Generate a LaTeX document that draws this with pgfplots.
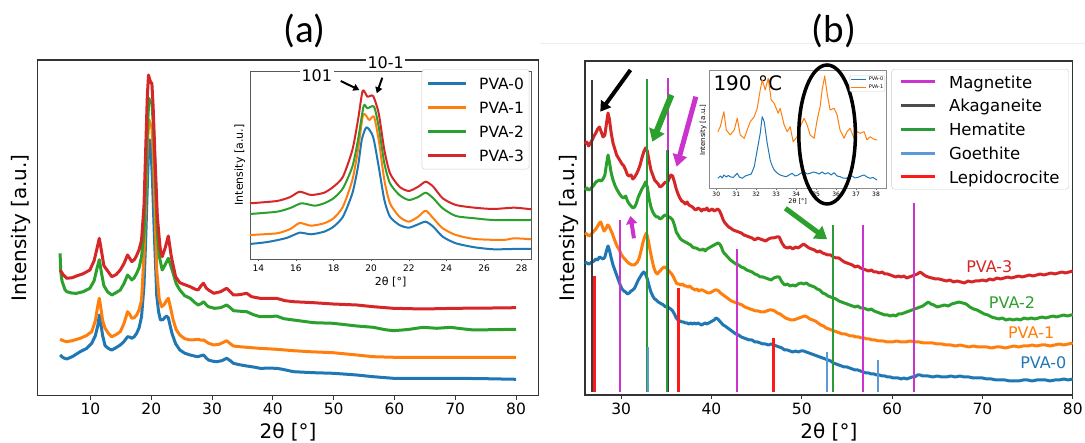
\documentclass[border=0pt]{standalone}
\usepackage{pgfplots}
\pgfplotsset{compat=1.18}
\usepackage{fontspec}
\setmainfont{DejaVu Sans}
\newfontfamily\calibri{Carlito}
\usetikzlibrary{arrows.meta}
\definecolor{c0}{HTML}{1F77B4}
\definecolor{c1}{HTML}{FF7F0E}
\definecolor{c2}{HTML}{2CA02C}
\definecolor{c3}{HTML}{D62728}
\definecolor{magn}{HTML}{CC33CC}
\definecolor{akag}{HTML}{3A3A3A}
\definecolor{hema}{HTML}{2A9A3A}
\definecolor{goet}{HTML}{5B9BD5}
\definecolor{lepi}{HTML}{FF1A1A}
\newcommand\lstrA{\rule[-2.85pt]{0pt}{17pt}}
\newcommand\lstrB{\rule[-2.5pt]{0pt}{17pt}}
\begin{document}
\begin{tikzpicture}[x=1pt,y=1pt]
\useasboundingbox (0,0) rectangle (1085,443);
\draw[black!7, line width=0.8pt] (540,400) -- (1085,400);
\node[font=\calibri\fontsize{39}{40}\selectfont] at (304.5,411.7) {(a)};
\node[font=\calibri\fontsize{39}{40}\selectfont] at (834,411.7) {(b)};

% ---------------- panel (a) main
\begin{axis}[
 at={(37.3pt,47.3pt)}, anchor=south west, scale only axis,
 width=501.5pt, height=335.7pt,
 xmin=1.25, xmax=83.75, ymin=0, ymax=335.7,
 xtick={10,20,...,80}, ytick=\empty, xtick pos=lower,
 axis line style={black!80, line width=1.1pt},
 tick align=outside, major tick length=4pt, xtick style={black!80, line width=0.9pt},
 /pgf/number format/assume math mode=true,
 xticklabel style={font=\fontsize{15.5}{16}\selectfont},
 xlabel={2θ [°]}, ylabel={Intensity [a.u.]},
 xlabel style={font=\fontsize{20}{22}\selectfont, at={(axis description cs:0.5,-0.108)}, anchor=center},
 ylabel style={font=\fontsize{20}{22}\selectfont, at={(axis description cs:-0.033,0.5)}, anchor=center},
 every axis plot/.append style={line width=3pt, line join=round},
]
\addplot[c0] coordinates {(5,40.7)(5.5,38)(6.1,36.7)(7,39)(8.3,44)(9.3,47)(10.2,52.4)(10.8,60)(11.2,70)(11.45,80.7)(11.7,72)(12,60)(12.4,50)(13,47)(13.5,45.7)(14.2,48)(14.9,50.7)(15.5,54)(16.1,59)(16.5,58.5)(16.8,57.4)(17.2,59)(17.6,62.4)(18,68)(18.4,79)(18.8,110)(19.1,160)(19.35,210)(19.55,245)(19.75,255.7)(19.95,248)(20.2,215)(20.5,162)(20.9,100)(21.2,84)(21.5,75.7)(21.9,76)(22.2,78)(22.5,79.7)(22.8,78)(23.1,70)(23.4,62.4)(24,52)(24.7,45.7)(25.5,42.5)(26.4,40.7)(27.2,39.5)(27.7,39)(28.2,40)(28.6,40.7)(29,38)(29.4,35.7)(30.1,34.5)(30.8,34)(31.6,35)(32.4,37.4)(33,35)(33.5,32.4)(34.5,31)(35.7,29.7)(37,28.5)(37.9,27.4)(39.5,27.5)(40.6,27.4)(41.5,26.5)(43.4,24)(45,23.5)(46.7,23)(49.9,22.4)(52,21.5)(53.8,20.7)(56.5,19)(59.8,17.4)(64.7,17.4)(70.2,17.4)(75,17)(80,16.4)};
\addplot[c1] coordinates {(5,56.4)(5.5,55)(6.1,54)(7,55)(8.3,57.4)(9.3,60)(10.2,64)(10.8,75)(11.2,90)(11.45,97.4)(11.7,88)(12,75)(12.4,67.4)(13,62)(13.5,59)(14.2,61)(14.9,64)(15.5,72)(16.1,84)(16.5,81)(16.8,77.4)(17.2,78)(17.6,80.7)(18,86)(18.4,95.7)(18.8,140)(19.1,200)(19.35,250)(19.6,276)(19.8,272)(20.1,269)(20.35,240)(20.6,190)(20.9,125)(21.3,97)(21.7,89)(22.1,91)(22.5,95)(22.8,97.4)(23.1,90)(23.6,75.7)(24.1,66)(24.7,60.7)(25.5,57)(26.4,55.7)(27.2,56)(27.7,56.4)(28.2,55.5)(28.6,55.7)(29.4,52.5)(30.3,50.7)(31.2,51.5)(32.4,55)(33,52)(33.5,49.7)(34.5,49)(35.7,48.4)(37.5,47.5)(40.6,46.4)(43.4,45)(46,44)(49.9,43)(53.8,40.7)(56.5,39)(60,38.4)(65,38.4)(70,38.4)(80,38.4)};
\addplot[c2] coordinates {(5,142.4)(5.1,125)(5.3,115)(5.8,106)(6.1,104)(7,102.5)(7.7,102.4)(8.8,104)(9.9,107.4)(10.6,115)(11.1,128)(11.45,136)(11.8,123)(12.2,110)(12.8,104)(13.5,100.7)(14.2,103)(14.9,105.7)(15.5,112)(16.1,120.7)(16.5,118)(16.8,115.7)(17.2,118)(17.6,122.4)(18,128)(18.4,139)(18.8,162)(19.1,215)(19.35,265)(19.6,297.4)(19.85,293)(20.1,294)(20.35,270)(20.6,230)(21,162.4)(21.3,140)(21.8,125.7)(22.2,130)(22.8,137.4)(23.2,130)(23.6,122.4)(24.1,112)(24.7,105.7)(25.5,100)(26.4,97.4)(27.2,93)(27.7,90.7)(28.2,92)(28.6,94)(29.1,90.5)(29.4,89)(30.4,87.4)(31.4,88)(32.4,90.7)(33,88)(33.5,85)(34.5,84.5)(35.7,84)(36.8,81)(37.9,79)(39.5,79)(40.6,79.7)(41.8,77)(43.4,75.7)(46.7,73)(49.9,72.4)(53.8,69.7)(56.5,68.4)(58.5,66)(59.8,65)(61.5,65.8)(62.5,66.4)(64.7,68.4)(67,67.4)(69.2,68.4)(71,67)(73,65.7)(76,66)(80,66.4)};
\addplot[c3] coordinates {(5,125.7)(5.5,121)(6.1,117.4)(7,118)(7.7,119.7)(8.8,122)(9.9,125.7)(10.6,135)(11.1,148)(11.45,157.4)(11.8,145)(12.2,130)(12.8,125)(13.5,119)(14.2,121)(14.9,125.7)(15.5,132)(16.1,140.7)(16.5,137)(16.8,134)(17.2,136)(17.5,139)(18,146)(18.4,155.7)(18.8,190)(19.1,250)(19.35,300)(19.55,320.7)(19.75,316)(19.95,313)(20.1,312.4)(20.3,290)(20.6,240)(21,179)(21.3,158)(21.5,145.7)(21.8,139)(22.3,148)(22.8,159.7)(23.3,139)(24,119)(24.7,113)(25.5,111)(26.4,109)(27.2,106.5)(27.7,105.7)(28.2,110)(28.6,112.4)(29,108)(29.4,105.7)(30.3,102.4)(31.4,104)(32.4,107.4)(33,104)(33.5,100.7)(34.5,101)(35.7,102.4)(36.5,99)(37.9,97.4)(40.6,97.4)(42,95)(43.4,94)(46.7,93)(49.9,91.7)(53.8,90.7)(56.5,89)(59.8,87.4)(64.7,86.7)(70.2,87.4)(75,87.6)(80,88)};
\end{axis}

% ---------------- panel (a) inset
\begin{axis}[
 at={(250pt,184pt)}, anchor=south west, scale only axis,
 width=281.3pt, height=187.3pt,
 xmin=13.56, xmax=28.51, ymin=0, ymax=187.3, clip=false,
 xtick={14,16,...,28}, ytick=\empty, xtick pos=lower,
 axis background/.style={fill=white},
 axis line style={black!65, line width=0.7pt},
 tick align=outside, major tick length=2.5pt, xtick style={black!65, line width=0.6pt},
 /pgf/number format/assume math mode=true,
 xticklabel style={font=\fontsize{9}{10}\selectfont},
 xlabel={2θ [°]}, ylabel={Intensity [a.u.]},
 xlabel style={font=\fontsize{11}{12}\selectfont, at={(axis description cs:0.5,-0.121)}, anchor=center},
 ylabel style={font=\fontsize{11}{12}\selectfont, at={(axis description cs:-0.036,0.502)}, anchor=center},
 every axis plot/.append style={line width=2pt, line join=round, smooth, tension=0.4},
 legend style={at={(0.9929,1.0128)}, anchor=north east, draw=black!20, fill=white,
   rounded corners=3pt, font=\fontsize{15.5}{18}\selectfont, inner xsep=4.2pt, inner ysep=4.8pt,
   row sep=6.5pt, nodes={inner sep=1pt}, /tikz/column sep=11pt},
 legend cell align=left,
 legend image code/.code={\draw[#1, line width=3.2pt] (0pt,0pt) -- (38pt,0pt);},
]
\addplot[c0, forget plot] coordinates {(13.56,15)(14.5,17)(15.5,21)(16.2,26.3)(16.8,24.7)(17.5,27.3)(18,32.3)(18.5,42.3)(19,65.7)(19.3,92.3)(19.5,119)(19.75,131.7)(20.1,122.3)(20.4,92.3)(20.7,59)(21,42.3)(21.5,34)(22,31.3)(22.5,34.7)(22.9,37.3)(23.3,32.3)(23.8,22.3)(24.5,15.7)(25.5,11.7)(26.5,9.7)(27.5,10)(28.5,10)};
\addplot[c1, forget plot] coordinates {(13.56,24)(15,25.7)(15.7,30)(16.2,36)(16.8,33.3)(17.5,35.7)(18,40.7)(18.5,52.3)(19,79)(19.3,109)(19.55,143)(19.7,144)(19.9,139)(20.15,142.3)(20.4,119)(20.7,79)(21,55.7)(21.5,42.3)(22,37.3)(22.5,42.3)(22.9,48.3)(23.3,40.7)(23.8,30.7)(24.5,24)(25.5,20)(27,19)(27.6,20.7)(28.5,19.7)};
\addplot[c2, forget plot] coordinates {(13.56,45)(15,47.3)(15.7,51)(16.3,55.7)(17,53.3)(17.5,55.7)(18,60.7)(18.5,70.7)(19,92.3)(19.3,119)(19.6,153)(19.8,150.7)(20.15,152.3)(20.4,132.3)(20.7,95.7)(21,75.7)(21.5,64)(22,59)(22.5,62)(22.9,66.3)(23.3,60.7)(23.8,50.7)(24.5,43)(25.5,40.7)(26.5,39)(28.5,39)};
\addplot[c3, forget plot] coordinates {(13.56,55.7)(15,58)(15.7,62)(16.2,67.3)(16.8,64)(17.5,66.3)(18,72.3)(18.5,82.3)(19,109)(19.3,139)(19.55,168.3)(19.8,162.3)(20.1,163)(20.4,145.7)(20.7,109)(21,85.7)(21.5,72.3)(22,68)(22.5,72.3)(22.9,77.3)(23.3,72.3)(23.8,60.7)(24.5,54)(25.5,51.3)(26.5,50)(27.6,51.3)(28.5,49.7)};
\node[fill=white, inner sep=1.5pt, font=\fontsize{16}{17}\selectfont] at (axis cs:17.11,183) {101};
\node[fill=white, inner sep=1.5pt, font=\fontsize{16}{17}\selectfont] at (axis cs:20.77,196.3) {10-1};
\draw[-{Triangle[length=6pt,width=7pt]}, line width=2pt] (axis cs:18.38,178) -- (axis cs:19.37,169);
\draw[-{Triangle[length=6pt,width=7pt]}, line width=2pt] (axis cs:20.59,181.3) -- (axis cs:20.30,165.7);
\addlegendimage{c0}\addlegendentry{\lstrA PVA-0}
\addlegendimage{c1}\addlegendentry{\lstrA PVA-1}
\addlegendimage{c2}\addlegendentry{\lstrA PVA-2}
\addlegendimage{c3}\addlegendentry{\lstrA PVA-3}
\end{axis}

% ---------------- panel (b) main
\begin{axis}[
 at={(585pt,48pt)}, anchor=south west, scale only axis,
 width=487.8pt, height=334pt,
 xmin=26, xmax=80, ymin=0, ymax=334, clip=false,
 xtick={30,40,...,80}, ytick=\empty, xtick pos=lower,
 axis line style={black!80, line width=1.1pt},
 tick align=outside, major tick length=4pt, xtick style={black!80, line width=0.9pt},
 /pgf/number format/assume math mode=true,
 xticklabel style={font=\fontsize{15.5}{16}\selectfont},
 xlabel={2θ [°]}, ylabel={Intensity [a.u.]},
 xlabel style={font=\fontsize{20}{22}\selectfont, at={(axis description cs:0.5,-0.111)}, anchor=center},
 ylabel style={font=\fontsize{20}{22}\selectfont, at={(axis description cs:-0.032,0.5)}, anchor=center},
 every axis plot/.append style={line join=round},
 legend style={at={(0.9922,0.976)}, anchor=north east, draw=black!20, fill=white,
   rounded corners=3pt, font=\fontsize{16.5}{18}\selectfont, inner xsep=8.2pt, inner ysep=3.3pt,
   row sep=5.85pt, nodes={inner sep=1pt}, /tikz/column sep=11.3pt},
 legend cell align=left,
 legend image code/.code={\draw[#1, line width=3pt] (0pt,0pt) -- (34pt,0pt);},
]
\addplot[c3, line width=3pt, forget plot] coordinates {(26,251)(26.2,253)(26.4,249)(26.6,252)(26.8,255)(27.0,259)(27.2,262)(27.4,266)(27.6,268)(27.8,263)(28.0,258)(28.2,260)(28.4,273)(28.55,282)(28.7,276)(28.9,262)(29.1,252)(29.3,246)(29.5,240)(29.7,237)(29.9,234)(30.1,231)(30.3,229)(30.5,225)(30.7,220)(30.9,219)(31.1,220)(31.3,216)(31.5,218)(31.7,221)(31.9,225)(32.1,230)(32.3,237)(32.5,243)(32.7,247)(32.9,244)(33.1,234)(33.3,225)(33.5,220)(33.7,215)(33.9,213)(34.1,211)(34.3,208)(34.5,209)(34.7,211)(34.9,213)(35.1,212)(35.3,216)(35.5,220)(35.7,219)(35.9,213)(36.1,206)(36.3,201)(36.5,197)(36.7,194)(36.9,193)(37.1,191)(37.3,193)(37.5,190)(37.7,189)(37.9,188)(38.1,186)(38.3,185)(38.5,187)(38.7,186)(38.9,184)(39.1,186)(39.3,185)(39.5,187)(39.7,184)(39.9,185)(40.1,186)(40.3,184)(40.5,185)(40.7,186)(40.9,184)(41.1,180)(41.3,175)(41.5,172)(41.7,170)(41.9,168)(42.1,167)(42.4,165)(42.7,164)(43.0,163)(43.3,162)(43.6,160)(43.9,159)(44.2,158)(44.5,157)(44.8,155)(45.1,157)(45.4,156)(45.7,155)(46.0,154)(46.3,156)(46.6,157)(46.9,157)(47.2,158)(47.5,158)(47.8,152)(48.1,148)(48.4,147)(48.7,148)(49.0,146)(49.3,148)(49.6,147)(49.9,149)(50.2,151)(50.5,149)(50.8,147)(51.1,146)(51.4,145)(51.7,143)(52.0,144)(52.3,142)(52.6,141)(52.9,140)(53.2,140)(53.5,138)(53.8,137)(54.1,137)(54.4,135)(54.7,133)(55.0,132)(55.3,131)(55.6,130)(55.9,128)(56.2,129)(56.5,127)(56.8,126)(57.1,125)(57.4,124)(57.7,125)(58.0,123)(58.3,123)(58.6,122)(58.9,123)(59.2,121)(59.5,121)(59.8,120)(60.1,119)(60.4,118)(60.7,119)(61.0,118)(61.3,119)(61.6,117)(61.9,118)(62.2,119)(62.5,120)(62.8,121)(63.1,123)(63.4,121)(63.7,119)(64.0,118)(64.4,117)(64.8,116)(65.2,116)(65.6,115)(66.0,114)(66.4,115)(66.8,113)(67.2,114)(67.6,113)(68.0,112)(68.4,114)(68.8,113)(69.2,114)(69.6,114)(70.0,115)(70.4,114)(70.8,116)(71.2,115)(71.6,117)(72.0,116)(72.4,117)(72.8,118)(73.2,117)(73.6,118)(74.0,119)(74.4,118)(74.8,119)(75.2,120)(75.6,119)(76.0,120)(76.4,121)(76.8,120)(77.2,121)(77.6,122)(78.0,121)(78.4,122)(78.8,123)(79.2,122)(79.6,123)(80.0,124)};
\addplot[c2, line width=3pt, forget plot] coordinates {(26,205)(26.2,207)(26.4,205)(26.6,206)(26.8,208)(27.0,210)(27.2,213)(27.4,214)(27.6,215)(27.8,214)(28.0,216)(28.2,220)(28.4,232)(28.55,240)(28.7,233)(28.9,222)(29.1,215)(29.3,210)(29.5,206)(29.7,203)(29.9,200)(30.1,198)(30.3,197)(30.5,199)(30.7,194)(30.9,191)(31.1,189)(31.3,187)(31.5,188)(31.7,192)(31.9,198)(32.1,202)(32.3,206)(32.5,209)(32.7,213)(32.9,208)(33.1,196)(33.3,188)(33.5,183)(33.7,180)(33.9,178)(34.1,178)(34.3,176)(34.5,177)(34.7,179)(34.9,180)(35.1,179)(35.3,178)(35.5,177)(35.7,175)(35.9,170)(36.1,163)(36.3,160)(36.5,157)(36.7,155)(36.9,154)(37.1,153)(37.3,152)(37.5,151)(37.7,150)(37.9,148)(38.1,147)(38.3,147)(38.5,146)(38.7,145)(38.9,145)(39.1,146)(39.3,144)(39.5,146)(39.7,147)(39.9,148)(40.1,149)(40.3,150)(40.5,151)(40.7,152)(40.9,151)(41.1,148)(41.3,143)(41.5,141)(41.7,139)(41.9,137)(42.1,135)(42.4,133)(42.7,131)(43.0,130)(43.3,128)(43.6,127)(43.9,125)(44.2,124)(44.5,123)(44.8,121)(45.1,120)(45.4,118)(45.7,118)(46.0,117)(46.3,116)(46.6,115)(46.9,117)(47.2,118)(47.5,118)(47.8,113)(48.1,110)(48.4,111)(48.7,109)(49.0,110)(49.3,109)(49.6,111)(49.9,112)(50.2,111)(50.5,112)(50.8,110)(51.1,109)(51.4,108)(51.7,106)(52.0,105)(52.3,102)(52.6,101)(52.9,99)(53.2,98)(53.5,97)(53.8,96)(54.1,94)(54.4,93)(54.7,92)(55.0,91)(55.3,90)(55.6,89)(55.9,88)(56.2,89)(56.5,87)(56.8,87)(57.1,86)(57.4,85)(57.7,86)(58.0,84)(58.3,83)(58.6,82)(58.9,81)(59.2,80)(59.5,80)(59.8,79)(60.1,80)(60.4,79)(60.7,81)(61.0,81)(61.3,82)(61.6,83)(61.9,84)(62.2,85)(62.5,86)(62.8,87)(63.1,88)(63.4,89)(63.7,91)(64.0,93)(64.3,91)(64.6,90)(65.0,88)(65.4,89)(65.8,90)(66.2,89)(66.6,91)(67.0,92)(67.4,93)(67.8,92)(68.2,91)(68.6,88)(69.0,86)(69.4,85)(69.8,83)(70.2,81)(70.6,80)(71.0,78)(71.4,77)(71.8,76)(72.2,77)(72.6,75)(73.0,76)(73.4,75)(73.8,76)(74.2,75)(74.6,77)(75.0,76)(75.4,77)(75.8,76)(76.2,77)(76.6,78)(77.0,77)(77.4,78)(77.8,79)(78.2,78)(78.6,79)(79.0,80)(79.4,79)(79.8,80)(80.0,80)};
\addplot[c1, line width=3pt, forget plot] coordinates {(26,162)(26.2,161)(26.4,159)(26.6,160)(26.8,162)(27.0,164)(27.2,166)(27.4,169)(27.6,172)(27.75,173)(27.9,169)(28.1,164)(28.3,166)(28.5,170)(28.65,169)(28.8,166)(29.0,162)(29.2,157)(29.4,152)(29.6,148)(29.8,145)(30.0,141)(30.2,138)(30.4,136)(30.6,134)(30.8,132)(31.0,131)(31.2,130)(31.4,130)(31.6,131)(31.8,133)(32.0,137)(32.2,144)(32.4,152)(32.6,158)(32.8,162)(33.0,155)(33.2,145)(33.4,136)(33.6,128)(33.8,123)(34.0,121)(34.2,123)(34.4,125)(34.6,127)(34.8,128)(35.0,127)(35.2,125)(35.4,123)(35.6,121)(35.8,118)(36.0,114)(36.2,111)(36.4,111)(36.6,110)(36.8,111)(37.0,109)(37.2,109)(37.4,108)(37.6,109)(37.8,107)(38.0,106)(38.2,105)(38.4,106)(38.6,104)(38.8,105)(39.0,105)(39.2,104)(39.4,103)(39.6,102)(39.8,102)(40.0,103)(40.2,104)(40.4,105)(40.6,105)(40.8,104)(41.0,102)(41.3,100)(41.6,98)(41.9,96)(42.2,94)(42.5,93)(42.8,92)(43.1,91)(43.4,90)(43.7,88)(44.0,87)(44.3,86)(44.6,85)(44.9,84)(45.2,84)(45.5,83)(45.8,83)(46.1,84)(46.4,85)(46.7,85)(47.0,84)(47.3,82)(47.6,81)(47.9,79)(48.2,77)(48.5,76)(48.8,75)(49.1,75)(49.4,76)(49.7,77)(50.0,78)(50.3,79)(50.6,78)(50.9,76)(51.2,75)(51.5,74)(51.8,72)(52.1,70)(52.4,69)(52.7,67)(53.0,66)(53.3,65)(53.6,64)(53.9,63)(54.2,62)(54.5,61)(54.8,61)(55.1,60)(55.4,59)(55.7,59)(56.0,58)(56.3,58)(56.6,57)(56.9,57)(57.2,56)(57.5,56)(57.8,55)(58.1,55)(58.5,54)(59.0,54)(59.5,53)(60.0,53)(60.5,54)(61.0,53)(61.5,53)(62.0,54)(62.5,53)(63.0,53)(63.5,52)(64.0,52)(64.5,52)(65.0,51)(65.5,51)(66.0,50)(66.5,50)(67.0,49)(67.5,50)(68.0,49)(68.5,48)(69.0,49)(69.5,48)(70.0,48)(70.5,48)(71.0,47)(71.5,48)(72.0,48)(72.5,47)(73.0,48)(73.5,49)(74.0,48)(74.5,49)(75.0,49)(75.5,50)(76.0,49)(76.5,50)(77.0,50)(77.5,49)(78.0,50)(78.5,51)(79.0,50)(79.5,51)(80.0,52)};
\addplot[c0, line width=3pt, forget plot] coordinates {(26,133)(26.2,132)(26.4,131)(26.6,132)(26.8,133)(27.0,134)(27.2,136)(27.4,135)(27.6,138)(27.8,137)(28.0,136)(28.2,138)(28.4,145)(28.55,149)(28.7,145)(28.9,137)(29.1,130)(29.3,125)(29.5,120)(29.7,115)(29.9,110)(30.1,106)(30.3,104)(30.5,103)(30.7,101)(30.9,102)(31.1,104)(31.3,105)(31.5,107)(31.7,111)(31.9,115)(32.1,118)(32.3,121)(32.5,123)(32.7,121)(32.9,116)(33.1,109)(33.3,103)(33.5,99)(33.7,96)(33.9,95)(34.1,93)(34.3,92)(34.5,91)(34.7,90)(34.9,88)(35.1,89)(35.3,87)(35.5,86)(35.7,84)(35.9,81)(36.1,77)(36.3,75)(36.5,74)(36.7,73)(36.9,73)(37.1,72)(37.3,72)(37.5,71)(37.7,72)(37.9,71)(38.1,72)(38.3,71)(38.5,72)(38.7,71)(38.9,70)(39.1,71)(39.3,72)(39.5,71)(39.7,72)(39.9,73)(40.1,74)(40.3,75)(40.5,77)(40.7,76)(40.9,74)(41.1,72)(41.3,70)(41.5,69)(41.8,67)(42.1,65)(42.4,63)(42.7,61)(43.0,60)(43.3,58)(43.6,57)(43.9,56)(44.2,55)(44.5,55)(44.8,53)(45.1,53)(45.4,52)(45.7,51)(46.0,51)(46.3,50)(46.6,51)(46.9,50)(47.2,49)(47.5,48)(47.8,47)(48.1,45)(48.4,45)(48.7,44)(49.0,43)(49.3,44)(49.6,43)(49.9,44)(50.2,44)(50.5,43)(50.8,42)(51.1,41)(51.4,40)(51.7,39)(52.0,38)(52.3,37)(52.6,36)(52.9,35)(53.2,34)(53.5,32)(53.8,31)(54.1,30)(54.4,29)(54.7,28)(55.0,28)(55.3,27)(55.6,26)(55.9,25)(56.2,25)(56.5,24)(56.8,23)(57.1,22)(57.4,22)(57.7,21)(58.0,21)(58.3,20)(58.6,20)(58.9,19)(59.2,19)(59.5,18)(59.8,18)(60.1,17)(60.4,17)(60.7,17)(61.0,16)(61.3,17)(61.6,16)(61.9,17)(62.2,18)(62.5,18)(62.8,20)(63.1,20)(63.4,19)(63.7,19)(64.0,19)(64.5,18)(65.0,19)(65.5,18)(66.0,18)(66.5,19)(67.0,18)(67.5,19)(68.0,18)(68.5,18)(69.0,17)(69.5,17)(70.0,17)(70.5,16)(71.0,16)(71.5,15)(72.0,15)(72.5,15)(73.0,14)(73.5,14)(74.0,14)(74.5,15)(75.0,15)(75.5,14)(76.0,15)(76.5,15)(77.0,15)(77.5,14)(78.0,15)(78.5,15)(79.0,16)(79.5,15)(80.0,16)};
% reference lines
\addplot[magn, line width=2pt, forget plot] coordinates {(29.9,3)(29.9,175)};
\addplot[magn, line width=2pt, forget plot] coordinates {(35.2,3)(35.2,317)};
\addplot[magn, line width=2pt, forget plot] coordinates {(42.8,3)(42.8,146)};
\addplot[magn, line width=2pt, forget plot] coordinates {(56.8,3)(56.8,170)};
\addplot[magn, line width=2pt, forget plot] coordinates {(62.4,3)(62.4,192)};
\addplot[hema, line width=2pt, forget plot] coordinates {(32.87,3)(32.87,316)};
\addplot[hema, line width=2.5pt, forget plot] coordinates {(35.15,3)(35.15,245)};
\addplot[hema, line width=2pt, forget plot] coordinates {(53.4,3)(53.4,170)};
\addplot[akag, line width=2pt, forget plot] coordinates {(26.72,3)(26.72,315)};
\addplot[akag, line width=1.6pt, forget plot] coordinates {(35.25,3)(35.25,245)};
\addplot[goet, line width=2pt, forget plot] coordinates {(33.02,3)(33.02,48)};
\addplot[goet, line width=2pt, forget plot] coordinates {(52.8,3)(52.8,43)};
\addplot[goet, line width=2pt, forget plot] coordinates {(58.4,3)(58.4,35)};
\addplot[lepi, line width=2.5pt, forget plot] coordinates {(27.04,3)(27.04,119)};
\addplot[lepi, line width=2.5pt, forget plot] coordinates {(36.34,3)(36.34,107)};
\addplot[lepi, line width=2.5pt, forget plot] coordinates {(46.85,3)(46.85,57)};
% arrows
\draw[black, line width=4pt, -{Triangle[length=10pt,width=12pt]}] (axis cs:31.03,325) -- (axis cs:27.69,283.3);
\draw[c2, line width=6pt, -{Triangle[length=12pt,width=16pt]}] (axis cs:35.57,300) -- (axis cs:33.46,253.3);
\draw[magn, line width=5pt, -{Triangle[length=12pt,width=14pt]}] (axis cs:38.27,298.3) -- (axis cs:36.15,228.3);
\draw[magn, line width=4pt, -{Triangle[length=8pt,width=11pt]}] (axis cs:31.42,156.7) -- (axis cs:31.03,179);
\draw[c2, line width=5pt, -{Triangle[length=12pt,width=15pt]}] (axis cs:48.18,186.7) -- (axis cs:52.81,155.7);
% curve labels
\node[text=c3, font=\fontsize{16}{17}\selectfont] at (axis cs:70.76,128) {PVA-3};
\node[text=c2, font=\fontsize{16}{17}\selectfont] at (axis cs:73.27,92) {PVA-2};
\node[text=c1, font=\fontsize{16}{17}\selectfont] at (axis cs:75.39,62) {PVA-1};
\node[text=c0, font=\fontsize{16}{17}\selectfont] at (axis cs:76.74,32) {PVA-0};
\addlegendimage{magn}\addlegendentry{\lstrB Magnetite}
\addlegendimage{black!70}\addlegendentry{\lstrB Akaganeite}
\addlegendimage{hema}\addlegendentry{\lstrB Hematite}
\addlegendimage{goet}\addlegendentry{\lstrB Goethite}
\addlegendimage{lepi}\addlegendentry{\lstrB Lepidocrocite}
\end{axis}

% ---------------- panel (b) inset
\begin{axis}[
 at={(709.3pt,255pt)}, anchor=south west, scale only axis,
 width=176.7pt, height=117.3pt,
 xmin=29.65, xmax=38.5, ymin=0, ymax=117.3, clip=false,
 xtick={30,31,...,38}, ytick=\empty, xtick pos=lower,
 axis background/.style={fill=white},
 axis line style={black!45, line width=0.5pt},
 tick align=outside, major tick length=2pt, xtick style={black!60, line width=0.4pt},
 /pgf/number format/assume math mode=true,
 xticklabel style={font=\fontsize{6}{7}\selectfont, inner sep=1.5pt},
 xlabel={2θ [°]}, ylabel={Intensity [a.u.]},
 xlabel style={font=\fontsize{6.5}{7}\selectfont, at={(axis description cs:0.5,-0.117)}, anchor=center},
 ylabel style={font=\fontsize{7}{8}\selectfont, at={(axis description cs:-0.034,0.494)}, anchor=center},
 every axis plot/.append style={line width=1pt, line join=round},
 legend style={at={(0.9943,0.963)}, anchor=north east, draw=black!20, fill=white,
   rounded corners=1pt, font=\fontsize{5}{6}\selectfont, inner xsep=1pt, inner ysep=1pt,
   row sep=1.5pt, nodes={inner sep=0.6pt}, /tikz/column sep=1.5pt},
 legend cell align=left,
 legend image code/.code={\draw[#1, line width=0.8pt] (0pt,0pt) -- (15pt,0pt);},
]
\node[anchor=west, font=\fontsize{20}{22}\selectfont, inner sep=0pt] at (axis cs:29.85,104.7) {190 °C};
\addplot[c0] coordinates {(30.08,9.7)(30.2,12)(30.3,10)(30.38,13)(30.5,11)(30.6,12.5)(30.7,11.3)(30.85,10.5)(31.05,14.7)(31.15,11)(31.3,9.7)(31.45,12)(31.6,13)(31.75,14)(31.9,21.3)(32.05,38)(32.2,54.7)(32.3,71.3)(32.4,66.3)(32.55,44.7)(32.7,28)(32.8,22)(32.9,18)(33.05,15)(33.2,13)(33.35,12)(33.5,11.3)(33.65,13)(33.8,14.7)(33.95,12)(34.1,13)(34.25,15)(34.4,16.3)(34.55,14)(34.7,14.7)(34.85,16)(35.0,15.3)(35.15,14)(35.3,16)(35.45,14)(35.6,15.3)(35.75,13)(35.9,15.3)(36.05,12)(36.2,11.3)(36.35,10)(36.5,9.7)(36.65,11)(36.8,12)(36.95,10)(37.1,10.7)(37.25,12)(37.4,13)(37.55,11)(37.7,9.7)(37.85,10.5)(38.05,8)};
\addlegendentry{PVA-0}
\addplot[c1] coordinates {(30.08,56.3)(30.2,61.3)(30.38,76.3)(30.5,58)(30.7,53)(30.9,58)(31.05,69.7)(31.2,53)(31.4,49.7)(31.55,58)(31.7,66.3)(31.9,71.3)(32.05,79.7)(32.2,98)(32.3,108)(32.45,98)(32.6,109.7)(32.75,88)(32.9,84.7)(33.1,74.7)(33.2,79.7)(33.4,63)(33.55,56.3)(33.7,61.3)(33.85,46.3)(34.05,51.3)(34.2,61.3)(34.4,69.7)(34.55,63)(34.7,53)(34.9,49.7)(35.05,68)(35.2,81.3)(35.3,98)(35.43,112)(35.55,94.7)(35.7,78)(35.9,79.7)(36.05,73)(36.2,58)(36.4,49.7)(36.55,56.3)(36.7,59.7)(36.9,49.7)(37.05,56.3)(37.2,54.7)(37.4,56.3)(37.55,48)(37.7,51.3)(37.9,48.7)(38.05,48)};
\addlegendentry{PVA-1}
\draw[black, line width=3.5pt] (axis cs:35.55,53.5) ellipse [x radius=28.3pt, y radius=69.5pt];
\end{axis}
\end{tikzpicture}
\end{document}
